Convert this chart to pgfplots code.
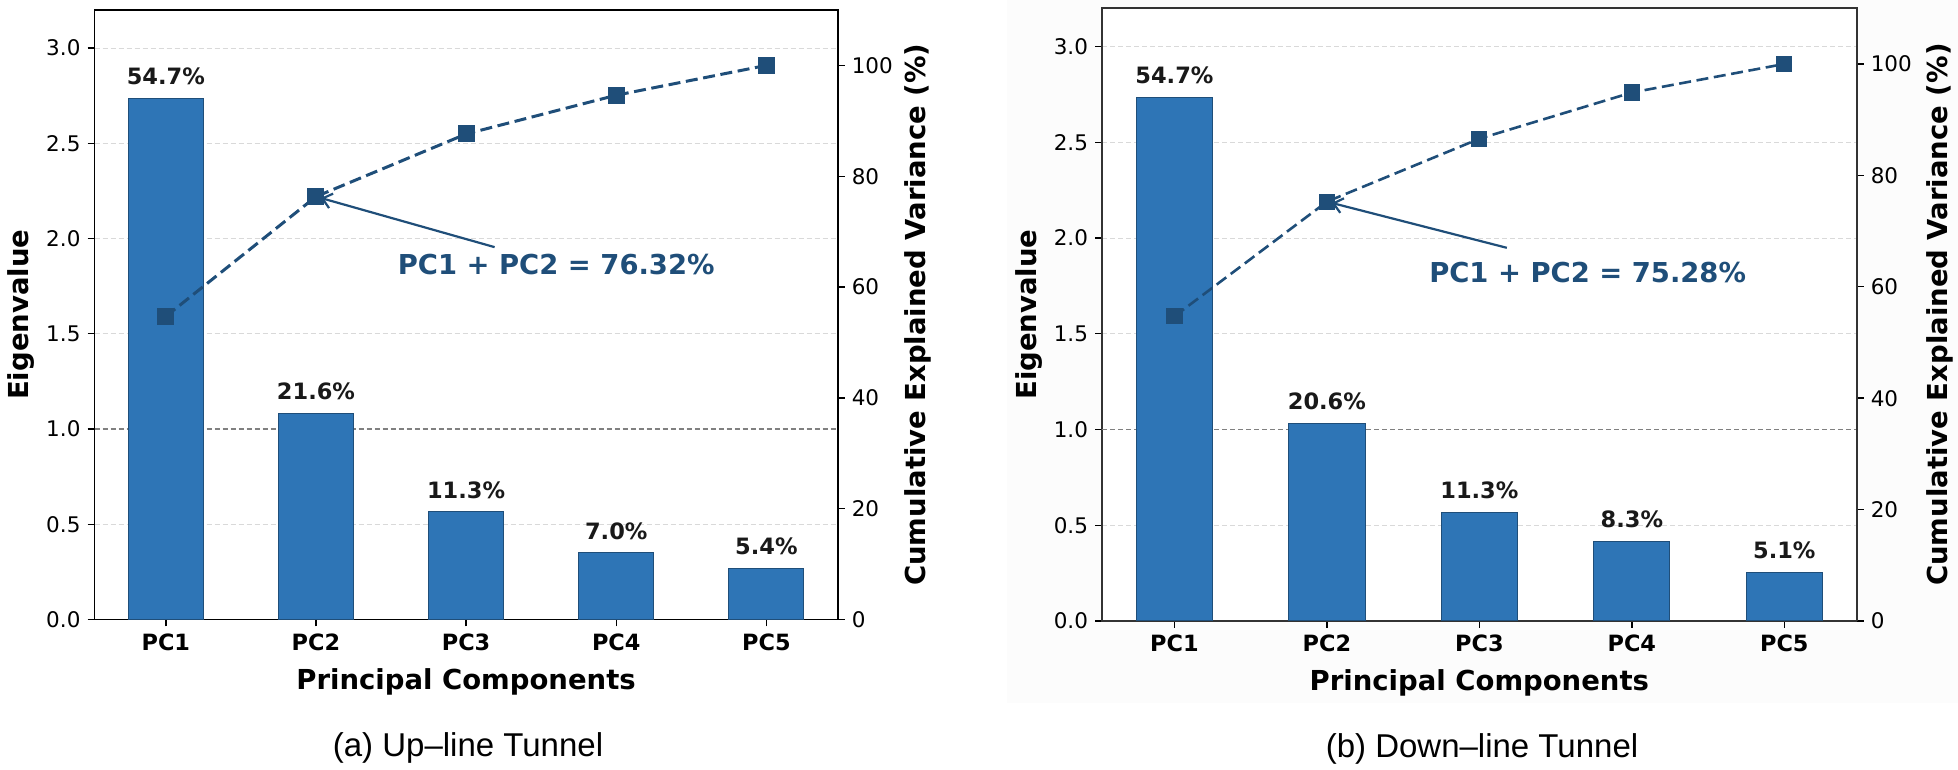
\documentclass[border=0pt]{standalone}
\usepackage{fontspec}
\setmainfont{DejaVu Sans}
\newfontfamily\capfont{Liberation Sans}
\usepackage{pgfplots}
\pgfplotsset{compat=1.18}
\usetikzlibrary{arrows.meta}
\definecolor{barblue}{HTML}{2E75B6}
\definecolor{baredge}{HTML}{1F4E79}
\definecolor{linblue}{HTML}{1F4E79}
\pgfplotsset{
  panel/.style={scale only axis, xmin=-0.475, xmax=4.475,
    tick align=outside, major tick length=3.5pt,
    tick style={black, line width=0.7pt},
    /pgf/number format/assume math mode=true,
    ticklabel style={font=\fontsize{10.75}{13}\selectfont},
    label style={font=\bfseries\fontsize{13.75}{16}\selectfont}},
  barax/.style={panel, xtick={0,1,2,3,4}, xticklabels={PC1,PC2,PC3,PC4,PC5},
    xtick pos=bottom, ytick pos=left, ymin=0, ymax=3.2,
    ytick={0,0.5,1,1.5,2,2.5,3},
    y tick label style={/pgf/number format/fixed, /pgf/number format/fixed zerofill, /pgf/number format/precision=1},
    xticklabel style={font=\bfseries\fontsize{11.2}{13}\selectfont},
    ymajorgrids, grid style={gray!30, line width=0.5pt, dash pattern=on 2.5pt off 1.5pt},
    xlabel={Principal Components}, ylabel={Eigenvalue}},
  lineax/.style={panel, ymin=0, ymax=110, ytick={0,20,40,60,80,100},
    axis y line*=right, axis x line=none,
    ylabel={Cumulative Explained Variance (\%)}},
  barplot/.style={ybar, bar width=0.5, fill=barblue, draw=baredge, line width=0.5pt,
    point meta=explicit symbolic, nodes near coords,
    nodes near coords style={font=\bfseries\fontsize{11.25}{13}\selectfont, inner sep=0pt, anchor=south, yshift=6.5pt, text=black!90}},
  kaiser/.style={gray, line width=0.6pt, dash pattern=on 2.6pt off 1.4pt, forget plot},
}
\begin{document}
\begin{tikzpicture}
\path[use as bounding box] (0,0) rectangle (979pt,385pt);
\fill[gray!2] (503.5pt,33.5pt) rectangle (979pt,385pt);
% ---------- (a) ----------
\begin{axis}[barax, at={(47.25pt,75.25pt)}, anchor=south west, width=371.6pt, height=304.75pt,
  axis line style={black, line width=0.8pt},
  xlabel style={at={(axis description cs:0.5,-0.102)}, anchor=center},
  ylabel style={at={(axis description cs:-0.0993,0.5)}, anchor=center}]
\addplot[kaiser] coordinates {(-0.475,1) (4.475,1)};
\addplot[barplot] coordinates {(0,2.735) [54.7\%] (1,1.08) [21.6\%] (2,0.565) [11.3\%] (3,0.35) [7.0\%] (4,0.27) [5.4\%]};
\end{axis}
\begin{axis}[lineax, at={(47.25pt,75.25pt)}, anchor=south west, width=371.6pt, height=304.75pt,
  axis line style={black, line width=0.8pt},
  ylabel style={at={(axis description cs:1.1085,0.5)}, anchor=center}]
\addplot[linblue, line width=1.5pt, dash pattern=on 6pt off 2.8pt, mark=square*, mark size=3.5pt, mark options={solid, fill=linblue}]
  coordinates {(0,54.7) (1,76.32) (2,87.62) (3,94.62) (4,100)};
\draw[linblue, line width=1.1pt, -{Straight Barb[length=4.5pt,width=7.5pt]}, shorten >=2.5pt] (axis cs:2.19,67.2) -- (axis cs:1,76.32);
\node[text=linblue, font=\bfseries\fontsize{13.7}{16}\selectfont] at (axis cs:2.60,64.1) {PC1 + PC2 = 76.32\%};
\end{axis}
% ---------- (b) ----------
\begin{axis}[barax, at={(551pt,74.5pt)}, anchor=south west, width=377.35pt, height=306.35pt,
  axis line style={black!80, line width=0.8pt},
  axis background/.style={fill=white},
  xlabel style={at={(axis description cs:0.5,-0.1017)}, anchor=center},
  ylabel style={at={(axis description cs:-0.0967,0.5)}, anchor=center}]
\addplot[kaiser] coordinates {(-0.475,1) (4.475,1)};
\addplot[barplot] coordinates {(0,2.735) [54.7\%] (1,1.03) [20.6\%] (2,0.565) [11.3\%] (3,0.415) [8.3\%] (4,0.255) [5.1\%]};
\end{axis}
\begin{axis}[lineax, at={(551pt,74.5pt)}, anchor=south west, width=377.35pt, height=306.35pt,
  axis line style={black!80, line width=0.8pt},
  ylabel style={at={(axis description cs:1.110,0.5)}, anchor=center}]
\addplot[linblue, line width=1.3pt, dash pattern=on 6pt off 2.8pt, mark=square*, mark size=3.4pt, mark options={solid, fill=linblue}]
  coordinates {(0,54.7) (1,75.28) (2,86.58) (3,94.88) (4,100)};
\draw[linblue, line width=1.1pt, -{Straight Barb[length=4.5pt,width=7.5pt]}, shorten >=2.5pt] (axis cs:2.18,67.0) -- (axis cs:1,75.28);
\node[text=linblue, font=\bfseries\fontsize{13.7}{16}\selectfont] at (axis cs:2.71,62.5) {PC1 + PC2 = 75.28\%};
\end{axis}
% captions
\node[font=\capfont\fontsize{16.5}{20}\selectfont] at (234pt,11pt) {(a) Up–line Tunnel};
\node[font=\capfont\fontsize{16.5}{20}\selectfont] at (741pt,10.75pt) {(b) Down–line Tunnel};
\end{tikzpicture}
\end{document}
